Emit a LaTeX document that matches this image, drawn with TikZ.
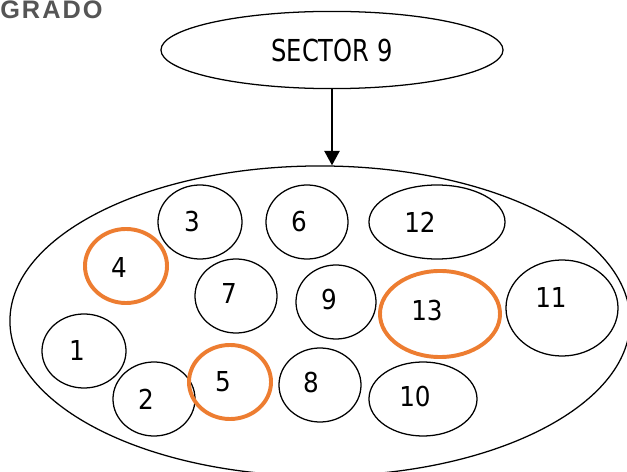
\documentclass[tikz,border=0pt]{standalone}
\usepackage{fontspec}
\usepackage{xcolor}
\usepackage{tikz}
\usetikzlibrary{arrows.meta,positioning,shapes.geometric}

\newfontfamily\sectorfont[FakeStretch=0.8]{DejaVu Sans}
\newfontfamily\bubblefont[FakeStretch=0.9]{DejaVu Sans}
\newfontfamily\titlefont[LetterSpace=8]{Liberation Sans}
\definecolor{hiorange}{HTML}{ED7D31}
\definecolor{titlegray}{HTML}{555555}

\begin{document}
\begin{tikzpicture}[
  x=0.025cm, y=-0.025cm,
  zone/.style={draw, ellipse, line width=0.9pt, inner sep=0pt},
  bubble/.style 2 args={zone, minimum width=#1*0.05cm, minimum height=#2*0.05cm},
  marked/.style={draw=hiorange, line width=2.8pt},
  num/.style={font=\bubblefont\fontsize{19.5}{22}\selectfont, inner sep=0pt},
  arr/.style={-{Triangle[length=0.36cm, width=0.38cm]}, line width=1.2pt},
]
\useasboundingbox (0,0) rectangle (627,472);

\node[anchor=base west, inner sep=0pt, text=titlegray,
  font=\titlefont\bfseries\fontsize{18}{21}\selectfont] (grado) at (0,19) {GRADO};

\node[zone, minimum width=8.55cm, minimum height=1.93cm,
  font=\sectorfont\fontsize{21.5}{24}\selectfont] (sector) at (332,50) {SECTOR 9};
\node[zone, minimum width=15.5cm, minimum height=7.75cm] (zone) at (320,321) {};

\draw[arr] (sector) -- (sector |- zone.north);

% blocks inside the sector
\node[bubble={42}{37}, label={[num, shift={(-7,0)}]center:1}] (b1) at (84,351) {};
\node[bubble={41}{37}, label={[num, shift={(-8,0)}]center:2}] (b2) at (154,399) {};
\node[bubble={42}{37}, label={[num, shift={(-8,0)}]center:3}] (b3) at (200,222) {};
\node[bubble={41}{37}, marked, label={[num, shift={(-7,2)}]center:4}] (b4) at (126,266) {};
\node[bubble={41}{37}, marked, label={[num, shift={(-7,0)}]center:5}] (b5) at (230,382) {};
\node[bubble={41}{37}, label={[num, shift={(-8,0)}]center:6}] (b6) at (307,222) {};
\node[bubble={41}{37}, label={[num, shift={(-7,-2)}]center:7}] (b7) at (236,296) {};
\node[bubble={41}{37}, label={[num, shift={(-9,-2)}]center:8}] (b8) at (320,385) {};
\node[bubble={40}{37}, label={[num, shift={(-7,-2)}]center:9}] (b9) at (336,302) {};
\node[bubble={54}{37}, label={[num, shift={(-8,-2)}]center:10}] (b10) at (423,399) {};
\node[bubble={56}{48}, label={[num, shift={(-11,-10)}]center:11}] (b11) at (562,308) {};
\node[bubble={68}{37}, label={[num, shift={(-17,0)}]center:12}] (b12) at (437,222) {};
\node[bubble={60}{43}, marked, label={[num, shift={(-13,-3)}]center:13}] (b13) at (440,314) {};

\end{tikzpicture}
\end{document}
